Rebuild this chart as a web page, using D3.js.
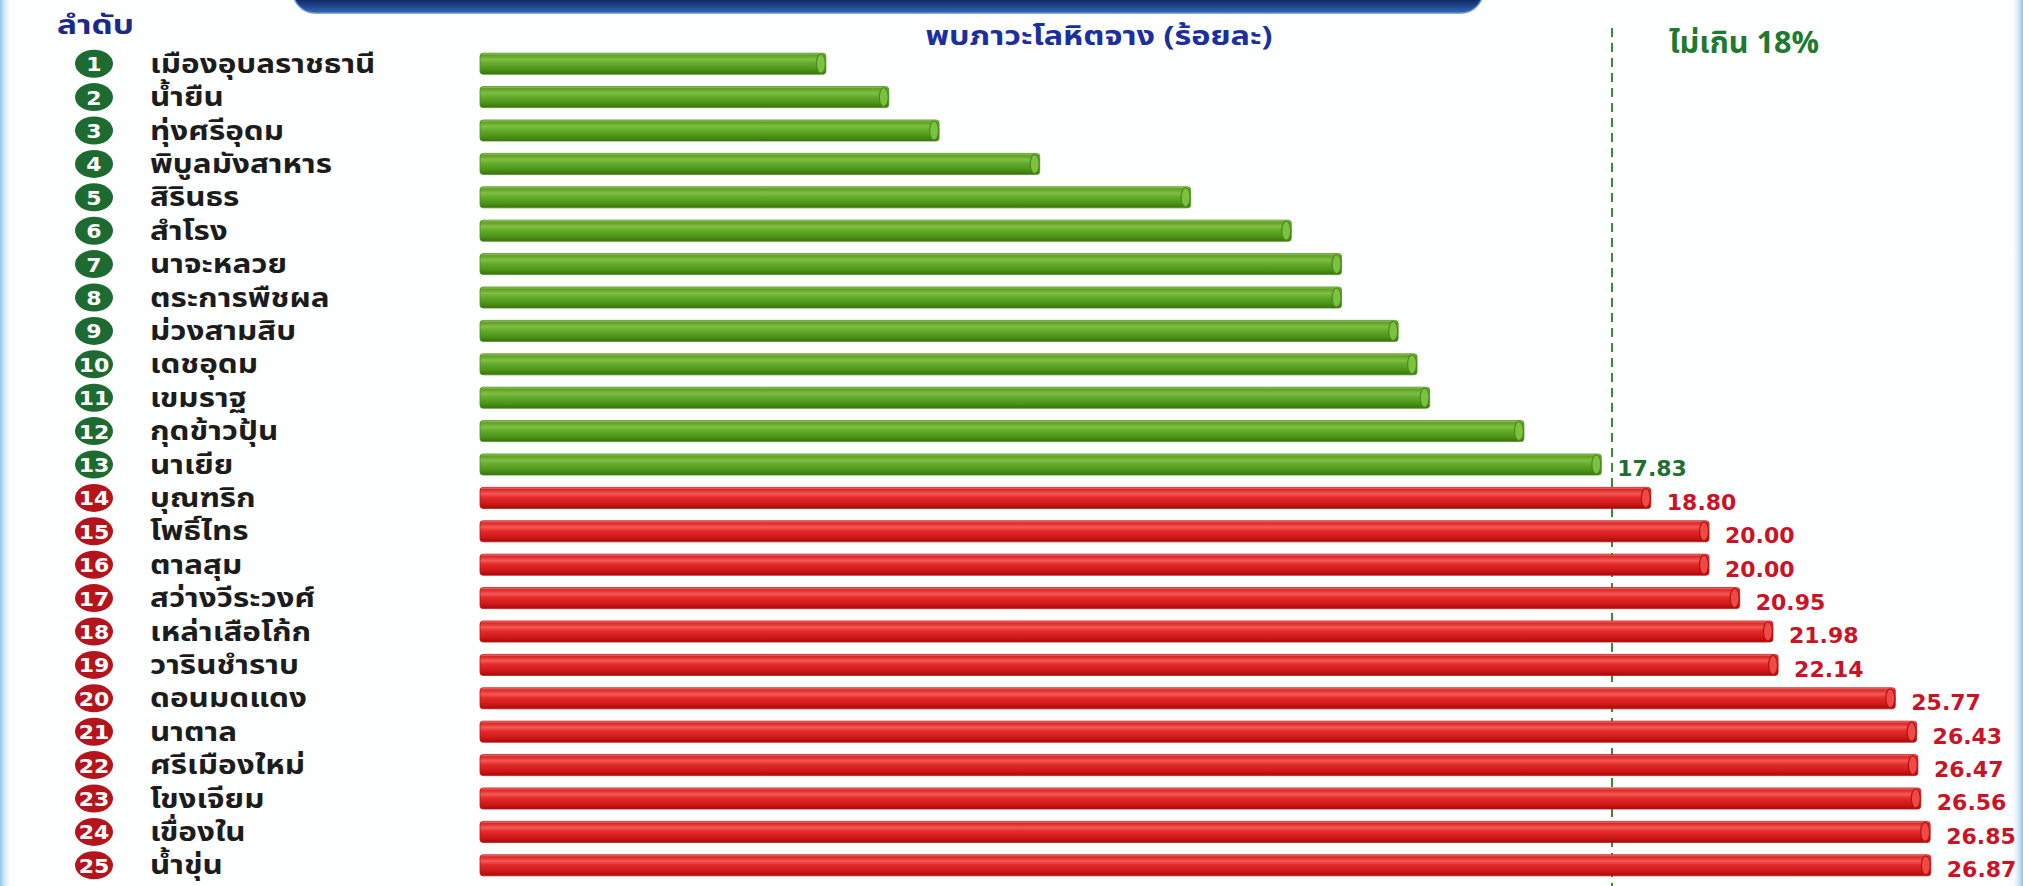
<!DOCTYPE html>
<html>
<head>
<meta charset="utf-8">
<script src="https://cdn.jsdelivr.net/npm/d3@7"></script>
<style>
  body { margin: 0; background: #fff; }
  svg { display: block; }
</style>
</head>
<body>
<svg width="2023" height="886"></svg>
<script>
// อำเภอ เรียงตามลำดับ (น้อย -> มาก)
var districts = ["เมืองอุบลราชธานี", "น้ำยืน", "ทุ่งศรีอุดม", "พิบูลมังสาหาร", "สิรินธร", "สำโรง",
    "นาจะหลวย", "ตระการพืชผล", "ม่วงสามสิบ", "เดชอุดม", "เขมราฐ", "กุดข้าวปุ้น", "นาเยีย",
    "บุณฑริก", "โพธิ์ไทร", "ตาลสุม", "สว่างวีระวงศ์", "เหล่าเสือโก้ก", "วารินชำราบ", "ดอนมดแดง",
    "นาตาล", "ศรีเมืองใหม่", "โขงเจียม", "เขื่องใน", "น้ำขุ่น"];
// ร้อยละพบภาวะโลหิตจาง (สีเขียวประมาณจากความยาวแท่ง)
var anemia = [5.5, 6.5, 7.3, 8.9, 11.3, 12.9, 13.7, 13.7, 14.6, 14.9, 15.1, 16.6, 17.83,
    18.80, 20.00, 20.00, 20.95, 21.98, 22.14, 25.77, 26.43, 26.47, 26.56, 26.85, 26.87];
var threshold = 18;
var labelRank = "ลำดับ";
var labelTitle = "พบภาวะโลหิตจาง (ร้อยละ)";
var labelTarget = "ไม่เกิน 18%";

var thaiFont = "'Noto Sans Thai', Tahoma, Loma, Garuda, 'DejaVu Sans', sans-serif";
var numFont = "'DejaVu Sans', sans-serif";

var data = districts.map(function (d, i) {
    return { rank: i + 1, name: d, value: anemia[i], over: anemia[i] > threshold };
});

var svg = d3.select("svg"),
    width = +svg.attr("width"),
    height = +svg.attr("height");

// infographic bars are not drawn to one linear ratio, so the scale has breaks
var x = d3.scaleLinear()
    .domain([0, 18, 20, 27])
    .range([480, 1612, 1709, 1935]);

var y = d3.scaleBand()
    .domain(data.map(function (d) { return d.rank; }))
    .range([47, 882])
    .paddingInner(0.37)
    .paddingOuter(0.185);

var defs = svg.append("defs");

function barGradient(id, stops) {
    var g = defs.append("linearGradient").attr("id", id)
        .attr("x1", 0).attr("y1", 0).attr("x2", 0).attr("y2", 1);
    stops.forEach(function (s) {
        g.append("stop").attr("offset", s[0]).attr("stop-color", s[1]);
    });
}
barGradient("g-green", [["0%", "#a3d46c"], ["10%", "#5f9f24"], ["30%", "#80bf44"], ["48%", "#64ac2c"], ["78%", "#4c9418"], ["100%", "#37700b"]]);
barGradient("g-red", [["0%", "#ff8c84"], ["10%", "#dc2626"], ["30%", "#f25a56"], ["48%", "#e42a2a"], ["78%", "#cf1818"], ["100%", "#a40a0a"]]);

var banner = defs.append("linearGradient").attr("id", "g-banner")
    .attr("x1", 0).attr("y1", 0).attr("x2", 0).attr("y2", 1);
banner.append("stop").attr("offset", "0%").attr("stop-color", "#0a1f4a");
banner.append("stop").attr("offset", "75%").attr("stop-color", "#0f2b62");
banner.append("stop").attr("offset", "100%").attr("stop-color", "#3566b5");

var edge = defs.append("linearGradient").attr("id", "g-edge");
edge.append("stop").attr("offset", "0%").attr("stop-color", "#8fc3ee");
edge.append("stop").attr("offset", "100%").attr("stop-color", "#ffffff").attr("stop-opacity", 0);

// page frame
svg.append("rect").attr("width", width).attr("height", height).attr("fill", "#fdfefe");
svg.append("rect").attr("x", 0).attr("y", 0).attr("width", 12).attr("height", height).attr("fill", "url(#g-edge)");
svg.append("rect").attr("x", width - 12).attr("y", 0).attr("width", 12).attr("height", height)
    .attr("fill", "url(#g-edge)").attr("transform", "rotate(180," + (width - 6) + "," + (height / 2) + ")");

// top banner (cut off at top edge)
svg.append("rect")
    .attr("x", 293).attr("y", -40).attr("width", 1190).attr("height", 53).attr("rx", 22)
    .attr("fill", "url(#g-banner)").attr("stroke", "#5d8fd6").attr("stroke-width", 1.5);

// stretched text helper: the source artwork is widened horizontally
function wideText(sel, tx, ty, sx) {
    return sel.append("text")
        .attr("transform", "translate(" + tx + "," + ty + ") scale(" + sx + ",1)");
}

wideText(svg, 57, 34, 1.24)
    .attr("font-family", thaiFont).attr("font-weight", "bold").attr("font-size", 27)
    .attr("fill", "#1b2a8a").text(labelRank);

wideText(svg, 1099, 45, 1.2)
    .attr("text-anchor", "middle")
    .attr("font-family", thaiFont).attr("font-weight", "bold").attr("font-size", 27)
    .attr("fill", "#1b2fa0").text(labelTitle);

wideText(svg, 1744, 53, 1.02)
    .attr("text-anchor", "middle")
    .attr("font-family", thaiFont).attr("font-weight", "bold").attr("font-size", 30)
    .attr("fill", "#1d7a30").text(labelTarget);

// threshold line
svg.append("line")
    .attr("x1", x(threshold)).attr("x2", x(threshold))
    .attr("y1", 28).attr("y2", height)
    .attr("stroke", "#3a8a3e").attr("stroke-width", 2)
    .attr("stroke-dasharray", "9,6");

var row = svg.append("g").selectAll("g")
    .data(data).enter()
    .append("g")
    .attr("transform", function (d) { return "translate(0," + y(d.rank) + ")"; });

var bh = y.bandwidth();

// rank badges
row.append("ellipse")
    .attr("cx", 94).attr("cy", bh / 2)
    .attr("rx", 19).attr("ry", 14)
    .attr("fill", function (d) { return d.over ? "#b5141c" : "#1e6b32"; });

wideText(row, 94, bh / 2 + 7.5, 1.1)
    .attr("text-anchor", "middle")
    .attr("font-family", numFont).attr("font-weight", "bold").attr("font-size", 20)
    .attr("fill", "#fff")
    .text(function (d) { return d.rank; });

wideText(row, 150, bh / 2 + 9, 1.21)
    .attr("font-family", thaiFont).attr("font-weight", "bold").attr("font-size", 26)
    .attr("fill", "#1c1c1c")
    .text(function (d) { return d.name; });

// bars
row.append("rect")
    .attr("x", x(0)).attr("y", 0)
    .attr("width", function (d) { return x(d.value) - x(0); })
    .attr("height", bh)
    .attr("rx", 3)
    .attr("fill", function (d) { return d.over ? "url(#g-red)" : "url(#g-green)"; })
    .attr("stroke", function (d) { return d.over ? "#c01414" : "#4f8f1c"; })
    .attr("stroke-width", 0.8);

row.append("ellipse")
    .attr("cx", function (d) { return x(d.value) - 5; })
    .attr("cy", bh / 2)
    .attr("rx", 4.5).attr("ry", bh / 2 - 1)
    .attr("fill", function (d) { return d.over ? "#ee4a46" : "#7dc143"; })
    .attr("stroke", function (d) { return d.over ? "#b80f0f" : "#4a8a18"; })
    .attr("stroke-width", 1.2);

// value labels (only on the limit bar and those above it)
row.filter(function (d) { return d.over || d.rank === 13; })
    .append("text")
    .attr("x", function (d) { return x(d.value) + 16; })
    .attr("y", bh / 2 + 12)
    .attr("font-family", numFont).attr("font-weight", "bold").attr("font-size", 22)
    .attr("fill", function (d) { return d.over ? "#cc1326" : "#1f6e33"; })
    .text(function (d) { return d.value.toFixed(2); });
</script>
</body>
</html>
